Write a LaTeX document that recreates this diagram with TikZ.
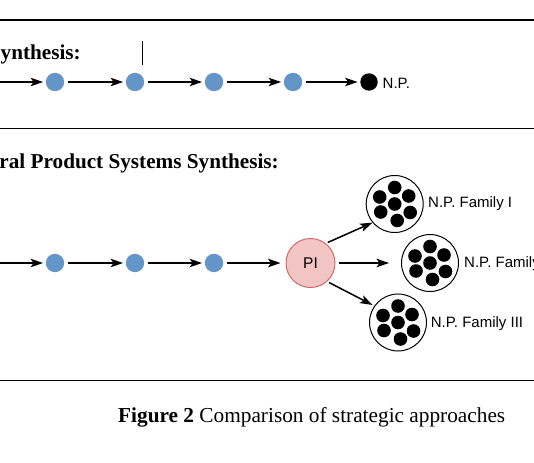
\documentclass[tikz,border=0pt]{standalone}
\usepackage{fontspec}
\setmainfont{Liberation Serif}
\setsansfont{Liberation Sans}
\usetikzlibrary{arrows.meta}
\definecolor{dotblue}{HTML}{6495C8}
\definecolor{pifill}{HTML}{F2C5C5}
\definecolor{pidraw}{HTML}{D06A6A}
\begin{document}
\begin{tikzpicture}[x=1pt,y=-1pt,
  sdot/.style={circle,fill=dotblue,minimum size=18.4pt,inner sep=0pt},
  npdot/.style={circle,fill=black,minimum size=17.4pt,inner sep=0pt},
  fam/.style={circle,draw=black,line width=1pt,minimum size=57pt,inner sep=0pt},
  arr/.style={-{Stealth[length=12.5pt,width=8.5pt,inset=3pt]},line width=1.5pt,shorten <=4pt,shorten >=2.5pt},
  sep/.style={line width=1.6pt},
  lab/.style={font=\sffamily\fontsize{15}{18}\selectfont,anchor=west,inner sep=0pt},
  ttl/.style={font=\bfseries\fontsize{21.2}{25}\selectfont,anchor=base east,inner sep=0pt}]
\useasboundingbox (0,0) rectangle (534,462);
\clip (0,0) rectangle (534,462);
\fill[white] (0,0) rectangle (534,462);
% separators
\draw[sep] (-5,20) -- (540,20);
\draw[sep] (-5,128.5) -- (540,128.5);
\draw[sep] (-5,380.5) -- (540,380.5);
% cursor mark
\draw[line width=0.6pt] (142.7,41) -- (142.7,65);
% row 1
\node[ttl] (t1) at (81,60) {ynthesis:};
\coordinate (s1) at (-10,82);
\node[sdot] (a1) at (55,82) {};
\node[sdot] (a2) at (135,82) {};
\node[sdot] (a3) at (214,82) {};
\node[sdot] (a4) at (293,82) {};
\node[npdot] (np) at (369,82) {};
\node[lab] (npl) at (382.5,83.5) {N.P.};
\draw[arr] (s1) -- (a1);
\draw[arr] (a1) -- (a2);
\draw[arr] (a2) -- (a3);
\draw[arr] (a3) -- (a4);
\draw[arr] (a4) -- (np);
% row 2
\node[ttl] (t2) at (279,168) {ral Product Systems Synthesis:};
\coordinate (s2) at (-10,263);
\node[sdot] (b1) at (55,263) {};
\node[sdot] (b2) at (135,263) {};
\node[sdot] (b3) at (214,263) {};
\node[circle,fill=pifill,draw=pidraw,line width=1pt,minimum size=49pt,inner sep=0pt,
      font=\sffamily\fontsize{15.5}{18}\selectfont] (pi) at (310.5,263) {PI};
\node[fam] (f1) at (394.7,204) {};
\node[fam] (f2) at (430,263) {};
\node[fam] (f3) at (398,322.5) {};
\foreach \f in {f1,f2,f3}{
  \foreach \dx/\dy in {0/0,0/-16.5,14/-8,15.5/8.5,2.5/16.5,-14/8,-15/-7}{
    \fill[shift={(\f.center)}] (\dx,\dy) circle (6.8pt);
  }
}
\node[lab] (f1l) at (428,204) {N.P. Family I};
\node[lab] (f2l) at (464,264) {N.P. Family II};
\node[lab] (f3l) at (430.7,323.5) {N.P. Family III};
\draw[arr] (s2) -- (b1);
\draw[arr] (b1) -- (b2);
\draw[arr] (b2) -- (b3);
\draw[arr,shorten >=5pt] (b3) -- (pi);
\draw[arr,shorten <=2pt,shorten >=0pt] (pi.52) -- (f1.220);
\draw[arr,shorten <=3pt,shorten >=12pt] (pi) -- (f2);
\draw[arr,shorten <=2pt,shorten >=2pt] (pi.-48) -- (f3.145);
% caption
\node[anchor=base west,inner sep=0pt,font=\fontsize{21.3}{25}\selectfont] (cap) at (118,422)
  {\textbf{Figure 2} Comparison of strategic approaches};
\end{tikzpicture}
\end{document}
